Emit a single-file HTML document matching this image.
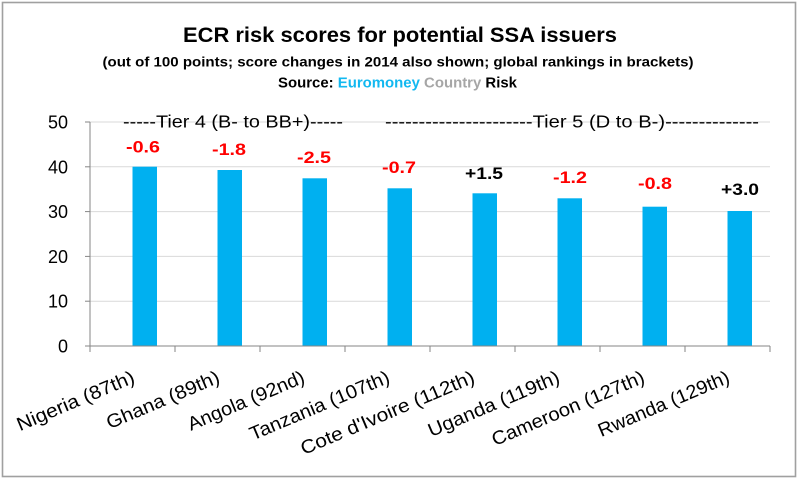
<!DOCTYPE html>
<html><head><meta charset="utf-8"><style>
html,body{margin:0;padding:0;background:#fff;}
svg{display:block;}
text{font-family:"Liberation Sans",Arial,sans-serif;}
</style></head><body>
<svg width="800" height="481" viewBox="0 0 800 481" xmlns="http://www.w3.org/2000/svg">
<rect x="0" y="0" width="800" height="481" fill="#fff"/>
<rect x="2.5" y="2.5" width="793" height="474" fill="#fff" stroke="#a0a0a0" stroke-width="1.6"/>
<!-- titles -->
<text x="400" y="42" text-anchor="middle" font-size="21" font-weight="bold" fill="#000" textLength="434" lengthAdjust="spacingAndGlyphs">ECR risk scores for potential SSA issuers</text>
<text x="398" y="66.5" text-anchor="middle" font-size="14" font-weight="bold" fill="#000" textLength="591" lengthAdjust="spacingAndGlyphs">(out of 100 points; score changes in 2014 also shown; global rankings in brackets)</text>
<text x="278" y="87.5" font-size="14.5" font-weight="bold" textLength="239" lengthAdjust="spacingAndGlyphs"><tspan fill="#000">Source: </tspan><tspan fill="#12b8f0">Euromoney</tspan><tspan fill="#a6a6a6"> Country</tspan><tspan fill="#000"> Risk</tspan></text>
<!-- gridlines -->
<g stroke="#d9d9d9" stroke-width="1">
<line x1="90" y1="122" x2="770" y2="122"/>
<line x1="90" y1="166.8" x2="770" y2="166.8"/>
<line x1="90" y1="211.6" x2="770" y2="211.6"/>
<line x1="90" y1="256.4" x2="770" y2="256.4"/>
<line x1="90" y1="301.2" x2="770" y2="301.2"/>
</g>
<!-- tier labels -->
<text x="123" y="127.5" font-size="17.5" fill="#000" textLength="220" lengthAdjust="spacingAndGlyphs">-----Tier 4 (B- to BB+)-----</text>
<text x="385" y="127.5" font-size="17.5" fill="#000" textLength="374" lengthAdjust="spacingAndGlyphs">----------------------Tier 5 (D to B-)--------------</text>
<!-- bars -->
<g fill="#00b0f0">
<rect x="132.5" y="166.7" width="24.5" height="179.3"/>
<rect x="217.5" y="170" width="24.5" height="176"/>
<rect x="302.5" y="178.3" width="24.5" height="167.7"/>
<rect x="387.5" y="188.3" width="24.5" height="157.7"/>
<rect x="472.5" y="193.3" width="24.5" height="152.7"/>
<rect x="557.5" y="198.3" width="24.5" height="147.7"/>
<rect x="642.5" y="206.7" width="24.5" height="139.3"/>
<rect x="727.5" y="211" width="24.5" height="135"/>
</g>
<!-- axes -->
<g stroke="#868686" stroke-width="1">
<line x1="90" y1="122" x2="90" y2="346"/>
<line x1="85" y1="346" x2="770" y2="346"/>
<line x1="85" y1="122" x2="90" y2="122"/>
<line x1="85" y1="166.8" x2="90" y2="166.8"/>
<line x1="85" y1="211.6" x2="90" y2="211.6"/>
<line x1="85" y1="256.4" x2="90" y2="256.4"/>
<line x1="85" y1="301.2" x2="90" y2="301.2"/>
<line x1="90" y1="346" x2="90" y2="352"/>
<line x1="175" y1="346" x2="175" y2="352"/>
<line x1="260" y1="346" x2="260" y2="352"/>
<line x1="345" y1="346" x2="345" y2="352"/>
<line x1="430" y1="346" x2="430" y2="352"/>
<line x1="515" y1="346" x2="515" y2="352"/>
<line x1="600" y1="346" x2="600" y2="352"/>
<line x1="685" y1="346" x2="685" y2="352"/>
<line x1="770" y1="346" x2="770" y2="352"/>
</g>
<!-- y labels -->
<g font-size="18" fill="#000" text-anchor="end">
<text x="68" y="128.5">50</text>
<text x="68" y="173.3">40</text>
<text x="68" y="218.1">30</text>
<text x="68" y="262.9">20</text>
<text x="68" y="307.7">10</text>
<text x="68" y="352.5">0</text>
</g>
<!-- data labels -->
<g font-size="17" font-weight="bold" text-anchor="middle">
<text x="143" y="152.5" fill="#ff0000" textLength="34" lengthAdjust="spacingAndGlyphs">-0.6</text>
<text x="229" y="155" fill="#ff0000" textLength="34" lengthAdjust="spacingAndGlyphs">-1.8</text>
<text x="314" y="163" fill="#ff0000" textLength="34" lengthAdjust="spacingAndGlyphs">-2.5</text>
<text x="399" y="173" fill="#ff0000" textLength="34" lengthAdjust="spacingAndGlyphs">-0.7</text>
<text x="484" y="179" fill="#000" textLength="38" lengthAdjust="spacingAndGlyphs">+1.5</text>
<text x="570" y="183" fill="#ff0000" textLength="34" lengthAdjust="spacingAndGlyphs">-1.2</text>
<text x="655" y="189" fill="#ff0000" textLength="34" lengthAdjust="spacingAndGlyphs">-0.8</text>
<text x="740" y="195" fill="#000" textLength="38" lengthAdjust="spacingAndGlyphs">+3.0</text>
</g>
<!-- x labels -->
<g font-size="19" fill="#000" text-anchor="end">
<text transform="translate(136,382) rotate(-23)" textLength="126" lengthAdjust="spacingAndGlyphs">Nigeria (87th)</text>
<text transform="translate(221,382) rotate(-23)" textLength="121" lengthAdjust="spacingAndGlyphs">Ghana (89th)</text>
<text transform="translate(306,382) rotate(-23)" textLength="125" lengthAdjust="spacingAndGlyphs">Angola (92nd)</text>
<text transform="translate(391,382) rotate(-23)" textLength="150" lengthAdjust="spacingAndGlyphs">Tanzania (107th)</text>
<text transform="translate(476,382) rotate(-23)" textLength="187" lengthAdjust="spacingAndGlyphs">Cote d'Ivoire (112th)</text>
<text transform="translate(561,382) rotate(-23)" textLength="141" lengthAdjust="spacingAndGlyphs">Uganda (119th)</text>
<text transform="translate(646,382) rotate(-23)" textLength="164" lengthAdjust="spacingAndGlyphs">Cameroon (127th)</text>
<text transform="translate(731,382) rotate(-23)" textLength="141" lengthAdjust="spacingAndGlyphs">Rwanda (129th)</text>
</g>
</svg>
</body></html>
